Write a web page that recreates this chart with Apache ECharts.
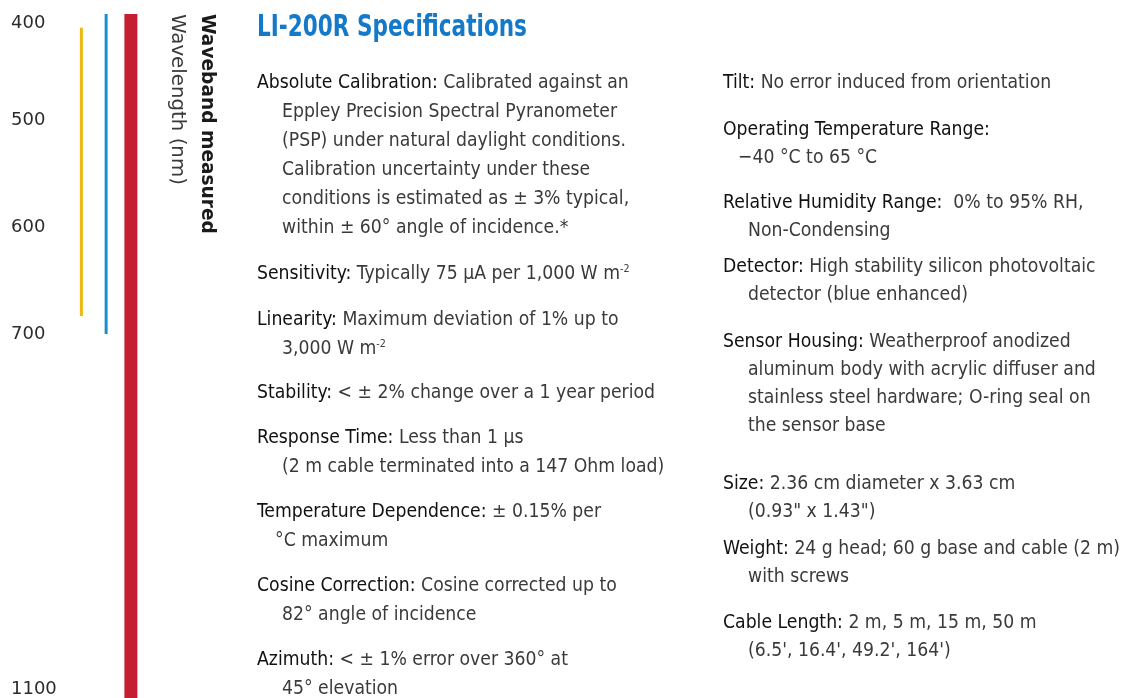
<!DOCTYPE html>
<html><head><meta charset="utf-8">
<script src="https://cdn.jsdelivr.net/npm/echarts@6/dist/echarts.min.js"></script>
<style>html,body{margin:0;padding:0;background:#fff}#c{width:1128px;height:698px}</style>
</head><body><div id="c"></div>
<script>
// ---- chart data ----
const bands = ['Photometric', 'Quantum', 'Pyranometer'];
const bandStart = [413, 400, 400];
const bandEnd = [683, 700, 1100];
const wavelengthTicks = [400, 500, 600, 700, 1100];
const axisTitle = 'Waveband measured';
const axisSubtitle = 'Wavelength (nm)';

// ---- styles ----
const bandColors = ['#E9B90D', '#1A8FCF', '#C41E32'];
const bandWidths = [3, 3, 13];

// ---- specification text ----
const specTitle = 'LI-200R Specifications';
const leftSpecs = [
  ['Absolute Calibration:', ' Calibrated against an', 'Eppley Precision Spectral Pyranometer', '(PSP) under natural daylight conditions.', 'Calibration uncertainty under these', 'conditions is estimated as ± 3% typical,', 'within ± 60° angle of incidence.*'],
  ['Sensitivity:', ' Typically 75 µA per 1,000 W m{sup|-2}'],
  ['Linearity:', ' Maximum deviation of 1% up to', '3,000 W m{sup|-2}'],
  ['Stability:', ' < ± 2% change over a 1 year period'],
  ['Response Time:', ' Less than 1 µs', '(2 m cable terminated into a 147 Ohm load)'],
  ['Temperature Dependence:', ' ± 0.15% per', '°C maximum'],
  ['Cosine Correction:', ' Cosine corrected up to', '82° angle of incidence'],
  ['Azimuth:', ' < ± 1% error over 360° at', '45° elevation']
];
const rightSpecs = [
  ['Tilt:', ' No error induced from orientation'],
  ['Operating Temperature Range:', '', '\u221240 °C to 65 °C'],
  ['Relative Humidity Range:', '  0% to 95% RH,', 'Non-Condensing'],
  ['Detector:', ' High stability silicon photovoltaic', 'detector (blue enhanced)'],
  ['Sensor Housing:', ' Weatherproof anodized', 'aluminum body with acrylic diffuser and', 'stainless steel hardware; O-ring seal on', 'the sensor base'],
  ['Size:', ' 2.36 cm diameter x 3.63 cm', '(0.93" x 1.43")'],
  ['Weight:', ' 24 g head; 60 g base and cable (2 m)', 'with screws'],
  ['Cable Length:', ' 2 m, 5 m, 15 m, 50 m', "(6.5', 16.4', 49.2', 164')"]
];

// ---- text layout ----
const leftLayout = { x: 257, ys: [83, 274, 320, 393, 438, 512, 586, 660], step: 29, indents: [25, 25, 25, 25, 25, 18, 25, 25] };
const rightLayout = { x: 723, ys: [83, 130, 203, 267, 342, 484, 549, 623], step: 28, indents: [25, 15, 25, 25, 25, 25, 25, 25] };
const bodyFont = "'Liberation Sans Narrow', 'Arial Narrow', 'DejaVu Sans Condensed', sans-serif";
const bodySize = 20;
const bodyScaleX = 0.96;

function specGraphics(specs, layout) {
  const out = [];
  specs.forEach((item, i) => {
    const y0 = layout.ys[i];
    out.push({
      type: 'text', x: layout.x, y: y0, scaleX: bodyScaleX, silent: true,
      style: {
        text: '{k|' + item[0] + '}' + item[1],
        fontFamily: bodyFont, fontSize: bodySize, fill: '#3a3a3a', verticalAlign: 'middle',
        rich: {
          k: { fontFamily: bodyFont, fontSize: bodySize, fill: '#111' },
          sup: { fontFamily: bodyFont, fontSize: 11, fill: '#3a3a3a', verticalAlign: 'top' }
        }
      }
    });
    item.slice(2).forEach((line, j) => {
      out.push({
        type: 'text', x: layout.x + layout.indents[i], y: y0 + (j + 1) * layout.step, scaleX: bodyScaleX, silent: true,
        style: {
          text: line, fontFamily: bodyFont, fontSize: bodySize, fill: '#3a3a3a', verticalAlign: 'middle',
          rich: { sup: { fontFamily: bodyFont, fontSize: 11, fill: '#3a3a3a', verticalAlign: 'top' } }
        }
      });
    });
  });
  return out;
}

const chart = echarts.init(document.getElementById('c'), null, { renderer: 'canvas' });
chart.setOption({
  animation: false,
  backgroundColor: '#fff',
  grid: { left: 69, width: 74.25, top: 14, bottom: 0 },
  xAxis: { type: 'category', data: bands, show: false, boundaryGap: true },
  yAxis: {
    type: 'value', inverse: true, min: 400, max: 1100,
    breaks: [{ start: 750, end: 1050, gap: 241 }],
    breakArea: { show: false, itemStyle: { opacity: 0, borderWidth: 0 } },
    axisLine: { show: false }, axisTick: { show: false }, splitLine: { show: false },
    axisLabel: {
      customValues: wavelengthTicks,
      formatter: v => String(v),
      align: 'left', margin: 58,
      fontFamily: 'DejaVu Sans', fontSize: 18, color: '#2b2b2b',
      verticalAlignMinLabel: 'top', verticalAlignMaxLabel: 'bottom'
    }
  },
  series: bands.map((b, i) => ({
    type: 'line', name: b,
    data: [[b, bandStart[i]], [b, bandEnd[i]]],
    symbol: 'none', silent: true,
    lineStyle: { color: bandColors[i], width: bandWidths[i], cap: 'butt' }
  })),
  graphic: [
    {
      type: 'text', x: 221, y: 14, rotation: -Math.PI / 2, silent: true,
      style: {
        text: '{b|' + axisTitle + '}\n{r|' + axisSubtitle + '}',
        align: 'left', verticalAlign: 'top',
        rich: {
          b: { fontFamily: 'DejaVu Sans', fontWeight: 'bold', fontSize: 18.6, fill: '#1a1a1a', lineHeight: 29 },
          r: { fontFamily: 'DejaVu Sans', fontSize: 19.8, fill: '#3a3a3a', lineHeight: 29 }
        }
      }
    },
    {
      type: 'text', x: 257, y: 28, scaleX: 0.8, silent: true,
      style: { text: specTitle, fontFamily: bodyFont, fontWeight: 'bold', fontSize: 30, fill: '#1479C8', verticalAlign: 'middle' }
    }
  ].concat(specGraphics(leftSpecs, leftLayout), specGraphics(rightSpecs, rightLayout))
});
</script>
</body></html>
